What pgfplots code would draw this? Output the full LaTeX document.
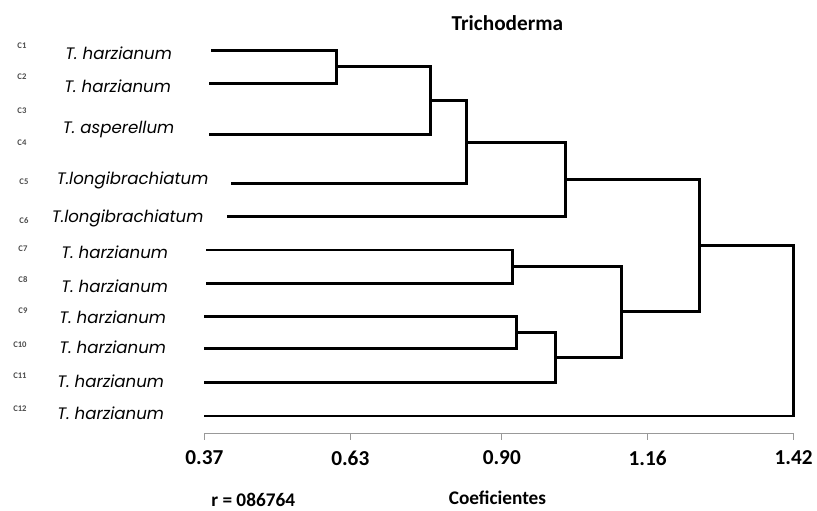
\documentclass[border=0pt]{standalone}
\usepackage{fontspec}
\setmainfont{Carlito}
\newfontfamily\spfont{Poppins}
\usepackage{pgfplots}
\pgfplotsset{compat=1.18}

% one picture pixel = 0.75pt; the axis corner sits at pixel (205,435)
\tikzset{px/.style={x=0.75pt,y=-0.75pt,xshift=-153.75pt,yshift=326.25pt}}

\begin{document}
\begin{tikzpicture}
\begin{scope}[px]
\useasboundingbox (0,0) rectangle (817,510);
\end{scope}
\begin{axis}[
    scale only axis,
    width=443.25pt, height=303.75pt,
    xmin=0.37, xmax=1.42,
    ymin=-435, ymax=-30,
    axis x line*=bottom,
    axis y line=none,
    clip=false,
    xtick={0.37,0.63,0.90,1.16,1.42},
    xticklabels={0.37,0.63,0.90,1.16,1.42},
    minor x tick num=4,
    tick align=outside,
    major tick length=4.5pt,
    minor tick length=1.5pt,
    axis line style={gray!80, line width=0.8pt},
    tick style={gray!80, line width=0.8pt},
    xticklabel style={font=\fontsize{16}{18}\selectfont\bfseries, yshift=-5pt},
    /pgf/number format/assume math mode=true,
    every axis plot post/.append style={black, solid, mark=none, line width=2.1pt, line join=miter},
]
% leaves that reach their first join, then the joins (x = coefficient)
\addplot coordinates {(0.382,-50.7) (0.605,-50.7) (0.605,-83.5) (0.379,-83.5)};
\addplot coordinates {(0.605,-67.1) (0.7725,-67.1) (0.7725,-135.3) (0.379,-135.3)};
\addplot coordinates {(0.7725,-101.2) (0.8375,-101.2) (0.8375,-184) (0.418,-184)};
\addplot coordinates {(0.8375,-142.6) (1.014,-142.6) (1.014,-217.3) (0.411,-217.3)};
\addplot coordinates {(0.3736,-250.7) (0.919,-250.7) (0.919,-284) (0.3736,-284)};
\addplot coordinates {(0.37,-317.3) (0.926,-317.3) (0.926,-349.3) (0.37,-349.3)};
\addplot coordinates {(0.926,-333.3) (0.9955,-333.3) (0.9955,-383.3) (0.37,-383.3)};
\addplot coordinates {(0.919,-267.4) (1.114,-267.4) (1.114,-358.3) (0.9955,-358.3)};
\addplot coordinates {(1.014,-180) (1.252,-180) (1.252,-312.8) (1.114,-312.8)};
\addplot coordinates {(1.252,-246.4) (1.42,-246.4) (1.42,-417.3) (0.37,-417.3)};
\end{axis}
\begin{scope}[px]
\node[font=\fontsize{16}{18}\selectfont\bfseries] at (509,23) {Trichoderma};
\node[font=\fontsize{14.5}{16}\selectfont\bfseries] at (499,499) {Coeficientes};
\node[font=\fontsize{14.5}{16}\selectfont\bfseries] at (254,501) {r = 086764};
\begin{scope}[every node/.style={font=\spfont\itshape\fontsize{12.5}{14}\selectfont}]
\node at (119,53) {T. harzianum};
\node at (118,87) {T. harzianum};
\node at (119,130) {T. asperellum};
\node at (133,181) {T.longibrachiatum};
\node at (128,219) {T.longibrachiatum};
\node at (115,253) {T. harzianum};
\node at (115,287) {T. harzianum};
\node at (113,318) {T. harzianum};
\node at (113,348) {T. harzianum};
\node at (111,382) {T. harzianum};
\node at (111,415) {T. harzianum};
\end{scope}
\begin{scope}[every node/.style={font=\fontsize{6.5}{7}\selectfont\bfseries, text=black!70}]
\node at (22,46) {C1};
\node at (22,77) {C2};
\node at (22,111) {C3};
\node at (22,143) {C4};
\node at (24,182) {C5};
\node at (24,221) {C6};
\node at (23,249) {C7};
\node at (23,280) {C8};
\node at (23,312) {C9};
\node at (20,346) {C10};
\node at (20,377) {C11};
\node at (20,410) {C12};
\end{scope}
\end{scope}
\end{tikzpicture}
\end{document}
